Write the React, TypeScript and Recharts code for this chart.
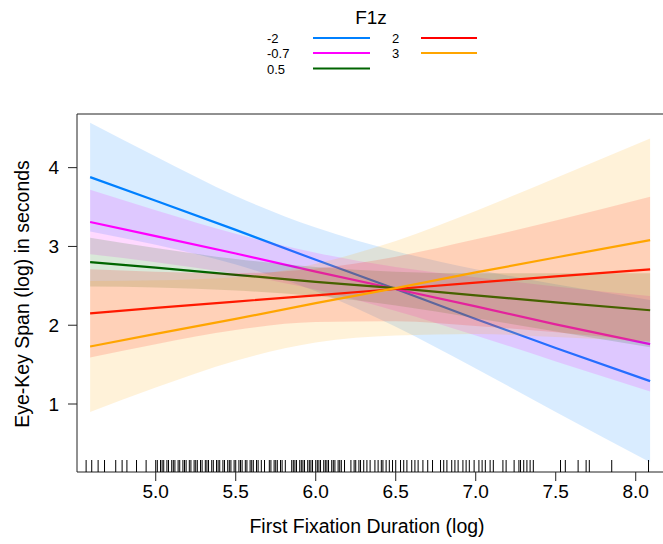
import React from 'react';
import { ComposedChart, Area, Line, Scatter, XAxis, YAxis, Label } from 'recharts';

// effect of first fixation duration on eye-key span, one line per F1z level
const levels = ['-2', '-0.7', '0.5', '2', '3'];
const colors = ['#0080ff', '#ff00ff', '#006400', '#ff0000', '#ffa500'];

const xs = [4.59, 5.0, 5.5, 6.0, 6.5, 7.0, 7.5, 8.09];

const fitM2 = [3.88, 3.58, 3.21, 2.83, 2.46, 2.08, 1.71, 1.29];
const loM2 = [3.19, 3.02, 2.77, 2.43, 1.98, 1.45, 0.9, 0.26];
const hiM2 = [4.57, 4.14, 3.64, 3.24, 2.94, 2.71, 2.52, 2.32];

const fitM07 = [3.31, 3.13, 2.91, 2.68, 2.46, 2.24, 2.01, 1.76];
const loM07 = [2.9, 2.8, 2.65, 2.45, 2.18, 1.87, 1.54, 1.16];
const hiM07 = [3.72, 3.46, 3.16, 2.92, 2.74, 2.61, 2.49, 2.37];

const fit05 = [2.8, 2.73, 2.64, 2.55, 2.47, 2.38, 2.29, 2.19];
const lo05 = [2.49, 2.48, 2.44, 2.37, 2.25, 2.09, 1.92, 1.72];
const hi05 = [3.11, 2.98, 2.84, 2.74, 2.68, 2.66, 2.66, 2.66];

const fit2 = [2.15, 2.22, 2.3, 2.38, 2.46, 2.54, 2.62, 2.71];
const lo2 = [1.59, 1.76, 1.94, 2.04, 2.05, 1.99, 1.91, 1.79];
const hi2 = [2.71, 2.68, 2.66, 2.72, 2.87, 3.09, 3.33, 3.63];

const fit3 = [1.73, 1.89, 2.08, 2.28, 2.47, 2.67, 2.86, 3.08];
const lo3 = [0.9, 1.21, 1.55, 1.78, 1.87, 1.89, 1.85, 1.79];
const hi3 = [2.56, 2.57, 2.61, 2.78, 3.07, 3.45, 3.87, 4.37];

const fits = [fitM2, fitM07, fit05, fit2, fit3];
const los = [loM2, loM07, lo05, lo2, lo3];
const his = [hiM2, hiM07, hi05, hi2, hi3];

// rug of observed x values
const rugX = [
  4.565, 4.6, 4.64, 4.68, 4.75, 4.79, 4.82, 4.88, 4.94,
  5.0, 5.01, 5.03, 5.04, 5.05, 5.07, 5.08, 5.1, 5.11, 5.12, 5.14, 5.15, 5.17, 5.18, 5.19,
  5.21, 5.22, 5.24, 5.25, 5.26, 5.28, 5.29, 5.31, 5.32, 5.33, 5.35, 5.36, 5.38, 5.39, 5.4,
  5.42, 5.43, 5.45, 5.46, 5.47, 5.49, 5.5, 5.52, 5.53, 5.54, 5.56, 5.57, 5.59, 5.6, 5.61,
  5.63, 5.64, 5.66, 5.68,
  5.71, 5.72, 5.74, 5.75, 5.76, 5.78, 5.79, 5.81,
  5.85, 5.86, 5.87, 5.88, 5.9, 5.91, 5.92, 5.93, 5.95, 5.96, 5.97, 5.98, 6.0, 6.01, 6.02,
  6.03, 6.05, 6.06, 6.07, 6.08, 6.1, 6.11, 6.12, 6.14, 6.15, 6.16, 6.18,
  6.22, 6.24, 6.25, 6.27, 6.28, 6.3, 6.32, 6.34,
  6.37, 6.39, 6.41, 6.42, 6.44, 6.46, 6.48, 6.5, 6.53, 6.55, 6.57, 6.6, 6.62, 6.64, 6.67,
  6.7, 6.73, 6.78, 6.8, 6.82, 6.85, 6.87, 6.89, 6.92, 6.94, 6.96, 6.99, 7.02, 7.04, 7.06,
  7.09, 7.11, 7.17, 7.19, 7.24,
  7.27, 7.28, 7.3, 7.32, 7.34, 7.36, 7.53, 7.56, 7.64, 7.69, 7.71, 7.85, 8.08,
];

const xTicks = [5.0, 5.5, 6.0, 6.5, 7.0, 7.5, 8.0];
const yTicks = [1, 2, 3, 4];
const xDomain = [4.508, 8.183];
const yDomain = [0.137, 4.681];

const rows = xs.map((x, i) => {
  const row: any = { x };
  levels.forEach((_, k) => {
    row['f' + k] = fits[k][i];
    row['r' + k] = [los[k][i], his[k][i]];
  });
  return row;
});

const rugData = rugX.map((x) => ({ x, y: yDomain[0] }));

const font = '"Liberation Sans", Arial, sans-serif';

const RugTick = (props: any) => {
  const { cx, cy } = props;
  return <line x1={cx} x2={cx} y1={cy} y2={cy - 12} stroke="#000" strokeWidth={1} />;
};

const KeyLegend = () => {
  const col1 = [0, 1, 2];
  const col2 = [3, 4];
  const rowY = [38, 53, 68.5];
  return (
    <svg width={663} height={90} style={{ position: 'absolute', left: 0, top: 0, fontFamily: font }}>
      <text x={371} y={24} textAnchor="middle" fontSize={19} fill="#000">F1z</text>
      {col1.map((k, j) => (
        <g key={k}>
          <text x={267} y={rowY[j] + 5} fontSize={13} fill="#000">{levels[k]}</text>
          <line x1={313} x2={370} y1={rowY[j]} y2={rowY[j]} stroke={colors[k]} strokeWidth={2.2} />
        </g>
      ))}
      {col2.map((k, j) => (
        <g key={k}>
          <text x={392} y={rowY[j] + 5} fontSize={13} fill="#000">{levels[k]}</text>
          <line x1={421} x2={477} y1={rowY[j]} y2={rowY[j]} stroke={colors[k]} strokeWidth={2.2} />
        </g>
      ))}
    </svg>
  );
};

export default function App() {
  const series: any[] = [];
  levels.forEach((lv, k) => {
    series.push(
      <Area
        key={'a' + k}
        data={rows}
        xAxisId="b"
        yAxisId="l"
        dataKey={'r' + k}
        type="monotone"
        stroke="none"
        fill={colors[k]}
        fillOpacity={0.15}
        isAnimationActive={false}
        zIndex={100 + k * 10}
      />
    );
    series.push(
      <Line
        key={'l' + k}
        data={rows}
        xAxisId="b"
        yAxisId="l"
        dataKey={'f' + k}
        type="linear"
        stroke={colors[k]}
        strokeWidth={2.2}
        dot={false}
        isAnimationActive={false}
        zIndex={105 + k * 10}
      />
    );
  });

  return (
    <div style={{ position: 'absolute', left: 0, top: 0, width: 663, height: 544, overflow: 'hidden', background: '#fff' }}>
      <ComposedChart
        width={680}
        height={544}
        margin={{ top: 0, right: 15, bottom: 0, left: 0 }}
        style={{ fontFamily: font }}
      >
        <XAxis
          xAxisId="b"
          dataKey="x"
          type="number"
          orientation="bottom"
          domain={xDomain}
          ticks={xTicks}
          tickFormatter={(v: number) => v.toFixed(1)}
          allowDataOverflow
          height={72}
          tickSize={9}
          tickMargin={4}
          stroke="#222"
          tick={{ fill: '#000', fontSize: 19 }}
        >
          <Label
            content={(p: any) => (
              <text x={367} y={533} textAnchor="middle" fontSize={19.5} fill="#000">
                First Fixation Duration (log)
              </text>
            )}
          />
        </XAxis>
        <XAxis
          xAxisId="t"
          dataKey="x"
          type="number"
          orientation="top"
          domain={xDomain}
          ticks={xTicks}
          allowDataOverflow
          height={114}
          tickSize={9}
          tick={false}
          stroke="#222"
        />
        <YAxis
          yAxisId="l"
          dataKey="y"
          type="number"
          domain={yDomain}
          ticks={yTicks}
          allowDataOverflow
          width={77}
          tickSize={9}
          tickMargin={9}
          stroke="#222"
          tick={{ fill: '#000', fontSize: 19 }}
        >
          <Label
            content={(p: any) => (
              <text
                transform="translate(29,294) rotate(-90)"
                textAnchor="middle"
                fontSize={19.5}
                fill="#000"
              >
                Eye-Key Span (log) in seconds
              </text>
            )}
          />
        </YAxis>
        {series}
        <Scatter
          data={rugData}
          xAxisId="b"
          yAxisId="l"
          dataKey="y"
          shape={<RugTick />}
          isAnimationActive={false}
          zIndex={700}
        />
      </ComposedChart>
      <KeyLegend />
    </div>
  );
}
